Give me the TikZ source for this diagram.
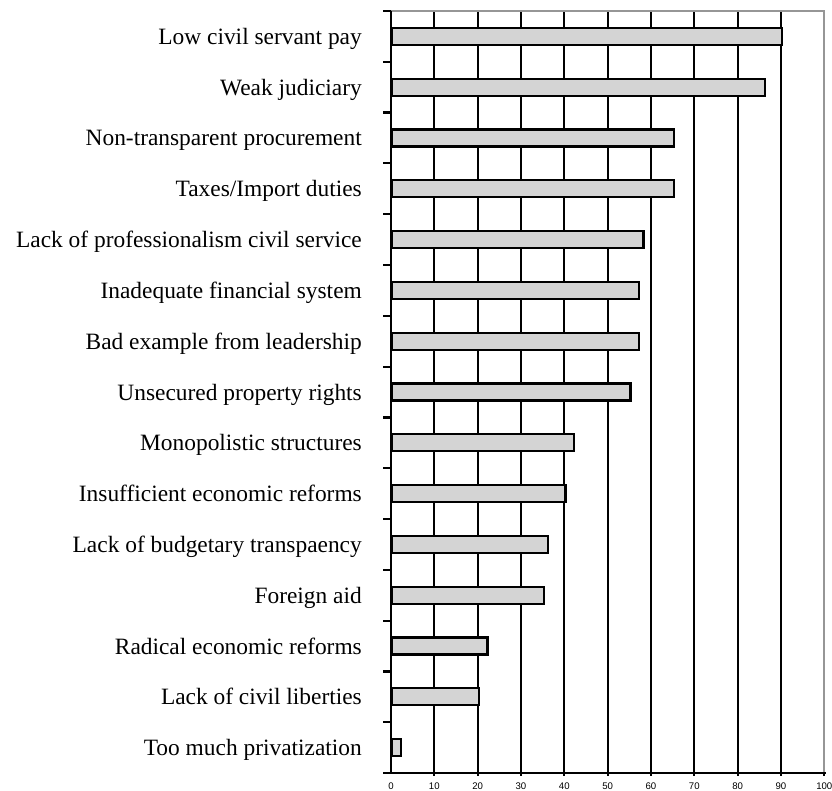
\documentclass[tikz,border=0pt]{standalone}
\usepackage{fontspec}
\setmainfont{Liberation Serif}
\newfontfamily\axisfont{Liberation Sans}
\definecolor{barfill}{RGB}{212,212,212}
\definecolor{framegray}{RGB}{150,150,150}
\begin{document}
\begin{tikzpicture}[x=1pt,y=-1pt,
  gridline/.style={line width=2pt, black},
  axisline/.style={line width=2.2pt, black},
  barbox/.style={draw=black, line width=2.2pt, fill=barfill, inner sep=0pt,
    minimum height=17pt, anchor=west, rectangle},
  catlabel/.style={anchor=base east, font=\fontsize{23.4}{26}\selectfont, inner sep=0pt},
  ticklabel/.style={anchor=base, font=\axisfont\fontsize{9.6}{11}\selectfont, inner sep=0pt}]
\useasboundingbox (0,0) rectangle (832,791);
% scale: origin at x=391, 4.333 per unit, rows 50.8 high from y=11 to y=773
\def\xz{391}
\def\unit{4.333}
\def\ytop{11}
\def\ybot{773}
\def\row{50.8}
% vertical grid lines
\foreach \k in {1,...,9}
  \draw[gridline] ({\xz+10*\k*\unit},\ytop) -- ({\xz+10*\k*\unit},776);
% plot frame (top and right)
\draw[framegray, line width=2pt] (\xz,\ytop) -- ({\xz+100*\unit},\ytop) -- ({\xz+100*\unit},\ybot);
\draw[gridline] ({\xz+100*\unit},\ybot) -- ({\xz+100*\unit},776);
% bars and category labels
\foreach \lab/\val [count=\i from 0] in {
  Low civil servant pay/90,
  Weak judiciary/86,
  Non-transparent procurement/65,
  {Taxes/Import duties}/65,
  Lack of professionalism civil service/58,
  Inadequate financial system/57,
  Bad example from leadership/57,
  Unsecured property rights/55,
  Monopolistic structures/42,
  Insufficient economic reforms/40,
  Lack of budgetary transpaency/36,
  Foreign aid/35,
  Radical economic reforms/22,
  Lack of civil liberties/20,
  Too much privatization/2}
{
  \node[barbox, minimum width={\val*\unit*1pt}] (bar\i) at (\xz,{\ytop+\row*(\i+0.5)}) {};
  \node[catlabel] (lab\i) at (362,{\ytop+\row*(\i+0.5)+8}) {\lab};
}
% category axis with ticks
\draw[axisline] (\xz,\ytop) -- (\xz,\ybot);
\foreach \k in {0,...,15}
  \draw[axisline] (383,{\ytop+\row*\k}) -- (\xz,{\ytop+\row*\k});
% value axis with labels
\draw[axisline] (383,\ybot) -- (826,\ybot);
\foreach \k in {0,...,10}
  \node[ticklabel] (tick\k) at ({\xz+10*\k*\unit},789.6) {\the\numexpr\k*10\relax};
\end{tikzpicture}
\end{document}
